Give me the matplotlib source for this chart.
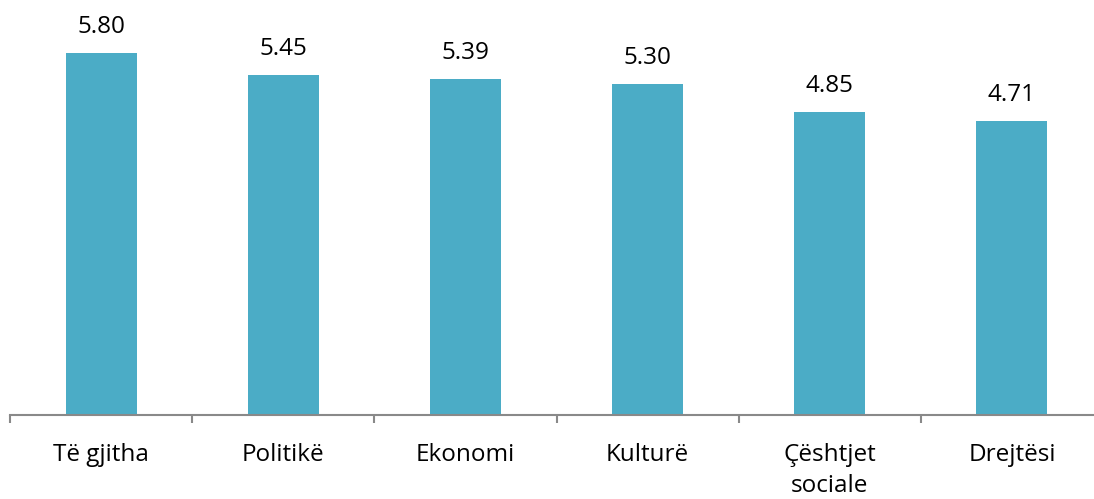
import matplotlib
matplotlib.use("Agg")
import matplotlib.pyplot as plt

categories = ["Të gjitha", "Politikë", "Ekonomi", "Kulturë", "Çështjet\nsociale", "Drejtësi"]
values = [5.80, 5.45, 5.39, 5.30, 4.85, 4.71]

plt.rcParams['font.family'] = ['Open Sans', 'DejaVu Sans']

fig = plt.figure(figsize=(10.94, 4.99), dpi=100)
W, H = 1094, 499
left, right, axis_y = 10, 1103, 415
ax = fig.add_axes([left / W, (H - axis_y) / H, (right - left) / W, axis_y / H])

x = list(range(len(categories)))
ax.bar(x, values, width=0.39, color="#4BACC6", zorder=2)
ax.set_xlim(-0.5, len(categories) - 0.5)
ax.set_ylim(0, 6.65)

for xi, v in zip(x, values):
    ax.annotate(f"{v:.2f}", (xi, v), xytext=(0, 10), textcoords="offset points",
                ha="center", va="bottom", fontsize=17.5, color="#000000")

for s in ["top", "right", "left"]:
    ax.spines[s].set_visible(False)
ax.spines["bottom"].set_color("#898989")
ax.spines["bottom"].set_linewidth(1.5)
ax.set_yticks([])

ax.set_xticks([i + 0.5 for i in range(-1, len(categories))], minor=False)
ax.set_xticklabels([])
ax.tick_params(axis="x", which="major", length=6, width=1.5, color="#898989")
ax.set_xticks(x, minor=True)
ax.set_xticklabels(categories, minor=True, fontsize=17.5, color="#000000", linespacing=1.42)
ax.tick_params(axis="x", which="minor", length=0, pad=20)

fig.savefig("out.png", dpi=100)
